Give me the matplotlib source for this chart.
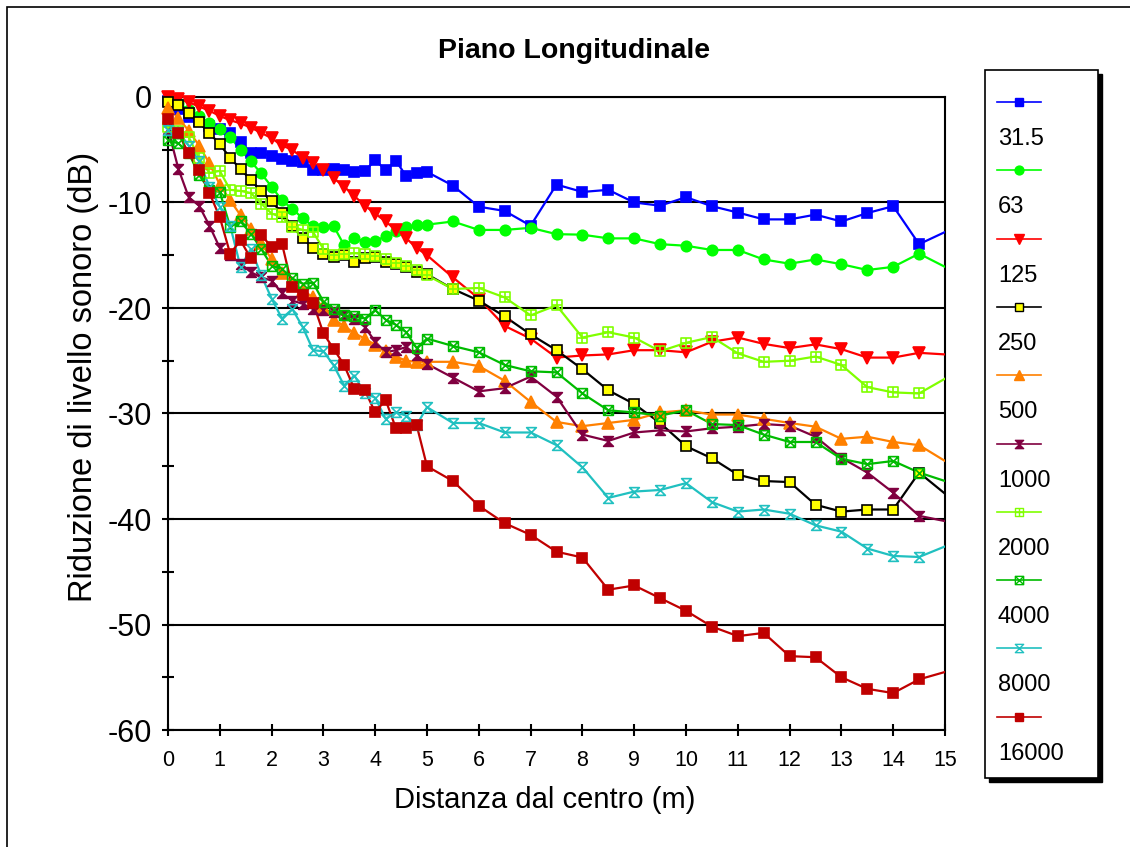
import matplotlib.pyplot as plt
from matplotlib.path import Path
from matplotlib.lines import Line2D
from matplotlib.patches import Rectangle

plt.rcParams['font.family'] = ['Liberation Sans', 'DejaVu Sans']
plt.rcParams['axes.unicode_minus'] = False

# distances (m); last point lies just outside the plotted range
dist = [0, 0.2, 0.4, 0.6, 0.8, 1.0, 1.2, 1.4, 1.6, 1.8, 2.0, 2.2, 2.4, 2.6, 2.8,
        3.0, 3.2, 3.4, 3.6, 3.8, 4.0, 4.2, 4.4, 4.6, 4.8, 5.0, 5.5, 6.0, 6.5, 7.0,
        7.5, 8.0, 8.5, 9.0, 9.5, 10.0, 10.5, 11.0, 11.5, 12.0, 12.5, 13.0, 13.5,
        14.0, 14.5, 15.0, 15.5]

freqs = ['31.5', '63', '125', '250', '500', '1000', '2000', '4000', '8000', '16000']

f31 = [-0.4, -1.1, -1.9, -2.3, -2.75, -3.0, -3.4, -4.3, -5.35, -5.3, -5.6, -5.9, -6.05,
       -6.2, -6.9, -6.9, -6.8, -6.9, -7.1, -7.0, -6.0, -6.9, -6.05, -7.5, -7.2, -7.1,
       -8.4, -10.4, -10.8, -12.2, -8.3, -9.0, -8.8, -10.0, -10.3, -9.5, -10.35, -10.95,
       -11.6, -11.6, -11.15, -11.8, -11.0, -10.35, -13.95, -12.8, -11.7]
f63 = [-0.2, -0.6, -1.2, -1.8, -2.5, -3.0, -3.8, -5.0, -6.1, -7.25, -8.5, -9.8, -10.6,
       -11.5, -12.25, -12.3, -12.25, -14.05, -13.4, -13.7, -13.65, -13.2, -12.7, -12.3,
       -12.15, -12.1, -11.8, -12.6, -12.6, -12.4, -13.0, -13.05, -13.4, -13.4, -13.95,
       -14.1, -14.5, -14.5, -15.4, -15.8, -15.4, -15.85, -16.4, -16.1, -14.85, -16.1, -17.3]
f125 = [0.0, -0.2, -0.5, -0.9, -1.3, -1.8, -2.2, -2.5, -2.9, -3.4, -3.9, -4.6, -5.0,
        -5.8, -6.3, -6.9, -7.7, -8.5, -9.4, -10.3, -11.05, -11.8, -12.6, -13.4, -14.3,
        -15.0, -17.1, -19.1, -21.7, -22.9, -24.7, -24.5, -24.4, -24.0, -24.0, -24.2,
        -23.2, -22.8, -23.4, -23.8, -23.45, -23.9, -24.7, -24.7, -24.25, -24.4, -24.6]
f250 = [-0.45, -0.75, -1.5, -2.4, -3.45, -4.45, -5.8, -6.8, -7.9, -8.9, -9.9, -11.0,
        -12.25, -13.4, -14.3, -14.85, -15.2, -15.0, -15.6, -15.3, -15.2, -15.6, -15.8,
        -16.1, -16.6, -16.8, -18.2, -19.3, -20.8, -22.5, -24.0, -25.8, -27.8, -29.1,
        -30.9, -33.1, -34.25, -35.8, -36.4, -36.5, -38.65, -39.3, -39.1, -39.1, -35.6,
        -37.6, -39.6]
f500 = [-1.0, -2.0, -3.2, -4.6, -6.3, -8.3, -9.8, -11.2, -12.5, -13.8, -15.4, -16.7,
        -17.6, -18.3, -19.0, -19.9, -21.1, -21.7, -22.4, -22.9, -23.5, -24.1, -24.6,
        -25.0, -25.1, -25.1, -25.1, -25.5, -26.9, -28.9, -30.8, -31.2, -30.9, -30.6,
        -29.9, -29.7, -30.1, -30.1, -30.5, -30.9, -31.25, -32.4, -32.2, -32.7, -33.0,
        -34.5, -36.0]
f1000 = [-3.0, -6.8, -9.5, -10.3, -12.2, -14.3, -15.0, -15.8, -16.6, -17.1, -17.4,
         -18.6, -19.3, -19.6, -20.1, -20.2, -20.4, -20.7, -21.0, -21.8, -23.2, -24.2,
         -24.0, -23.7, -24.5, -25.3, -26.6, -27.9, -27.6, -26.5, -28.4, -32.0, -32.6,
         -31.8, -31.6, -31.7, -31.4, -31.25, -31.0, -31.15, -32.2, -34.2, -35.6, -37.5,
         -39.7, -40.2, -40.7]
f2000 = [-2.8, -3.2, -3.8, -5.8, -7.2, -7.0, -8.8, -8.9, -9.1, -10.1, -11.05, -11.4,
         -12.3, -12.6, -12.8, -14.4, -15.0, -14.9, -14.8, -14.9, -15.1, -15.4, -15.7,
         -16.0, -16.4, -16.9, -18.2, -18.1, -19.0, -20.7, -19.75, -22.8, -22.3, -22.8,
         -24.1, -23.3, -22.75, -24.3, -25.1, -25.0, -24.6, -25.4, -27.5, -28.0, -28.1,
         -26.7, -25.3]
f4000 = [-4.1, -4.4, -5.3, -7.4, -8.8, -9.0, -12.3, -11.8, -12.95, -14.4, -16.0, -16.3,
         -17.2, -17.7, -17.6, -19.4, -20.1, -20.7, -20.8, -21.0, -20.2, -21.1, -21.6,
         -22.3, -23.8, -22.9, -23.6, -24.2, -25.4, -26.0, -26.1, -28.1, -29.7, -29.9,
         -30.2, -29.7, -31.0, -31.1, -32.0, -32.7, -32.7, -34.3, -34.8, -34.5, -35.6,
         -36.4, -37.2]
f8000 = [-3.1, -3.3, -4.6, -6.1, -8.5, -10.4, -12.2, -16.1, -14.4, -16.9, -19.1, -21.0,
         -20.1, -21.8, -24.0, -24.1, -25.45, -27.35, -26.4, -28.1, -28.5, -30.5, -29.9,
         -30.2, -31.1, -29.4, -30.9, -30.9, -31.8, -31.8, -33.0, -35.1, -38.0, -37.4,
         -37.25, -36.6, -38.4, -39.3, -39.1, -39.5, -40.6, -41.2, -42.8, -43.5, -43.6,
         -42.6, -41.6]
f16000 = [-2.1, -3.45, -5.35, -6.9, -9.1, -11.4, -14.85, -13.6, -15.3, -13.1, -14.2,
          -13.9, -18.0, -18.8, -19.5, -22.4, -23.9, -25.4, -27.7, -27.8, -29.9, -28.7,
          -31.4, -31.4, -31.1, -35.0, -36.4, -38.75, -40.4, -41.5, -43.1, -43.65, -46.7,
          -46.3, -47.5, -48.7, -50.2, -51.1, -50.8, -53.0, -53.1, -55.0, -56.1, -56.5,
          -55.2, -54.5, -53.8]

series = [f31, f63, f125, f250, f500, f1000, f2000, f4000, f8000, f16000]

# custom markers
M, L, C = Path.MOVETO, Path.LINETO, Path.CLOSEPOLY
hourglass = Path([(-1, 1), (1, 1), (-1, -1), (1, -1), (-1, 1)], [M, L, L, L, C])
boxplus = Path([(-1, -1), (1, -1), (1, 1), (-1, 1), (-1, -1), (0, -1), (0, 1), (-1, 0), (1, 0)],
               [M, L, L, L, C, M, L, M, L])
boxx = Path([(-1, -1), (1, -1), (1, 1), (-1, 1), (-1, -1), (-1, -1), (1, 1), (-1, 1), (1, -1)],
            [M, L, L, L, C, M, L, M, L])

# color, marker, face, edge, size
styles = [
    ('#0000FF', 's', '#0000FF', '#0000FF', 7),
    ('#00FF00', 'o', '#00FF00', '#00FF00', 7.5),
    ('#FF0000', 'v', '#FF0000', '#FF0000', 8),
    ('#000000', 's', '#FFFF00', '#000000', 7),
    ('#FF8000', '^', '#FF8000', '#FF8000', 8),
    ('#800040', hourglass, '#800040', '#800040', 7),
    ('#80FF00', boxplus, 'none', '#80FF00', 7),
    ('#00BB00', boxx, 'none', '#00BB00', 7),
    ('#20C0C0', hourglass, 'none', '#20C0C0', 7),
    ('#C00000', 's', '#C00000', '#C00000', 7.5),
]

W, H = 1130, 847
fig = plt.figure(figsize=(W / 100, H / 100), dpi=100)
ax = fig.add_axes([168 / W, 1 - 730 / H, (945 - 168) / W, (730 - 97) / H])

# markers only for points strictly inside the x range (edge ones are hidden in the original)
inside = [i for i, d in enumerate(dist) if d < 15]
for vals, (col, mk, fc, ec, ms) in zip(series, styles):
    ax.plot(dist, vals, color=col, lw=1.6, zorder=3)
    ax.plot([dist[i] for i in inside], [vals[i] for i in inside], ls='none',
            marker=mk, mfc=fc, mec=ec, ms=ms, mew=1.2, clip_on=False, zorder=4)

ax.set_xlim(0, 15)
ax.set_ylim(-60, 0)
ax.set_xticks(range(0, 16))
ax.set_yticks(range(-60, 1, 10))
ax.set_yticks(range(-55, 0, 10), minor=True)
ax.grid(axis='y', which='major', color='black', lw=1.5)
for s in ax.spines.values():
    s.set_linewidth(1.5)
ax.tick_params(axis='y', which='both', direction='inout', length=9, width=1.5,
               labelsize=22, pad=7)
ax.tick_params(axis='x', direction='inout', length=9, width=1.5, labelsize=15.5, pad=10)

fig.text(574 / W, 1 - 51 / H, 'Piano Longitudinale', ha='center', va='center',
         fontsize=20.5, fontweight='bold')
fig.text(545 / W, 1 - 800 / H, 'Distanza dal centro (m)', ha='center', va='center',
         fontsize=21)
fig.text(84 / W, 1 - 377 / H, 'Riduzione di livello sonoro (dB)', ha='center',
         va='center', rotation=90, fontsize=23.5)

# outer chart border
fig.add_artist(Rectangle((7 / W, -0.05), 1.1, 1 - 7 / H + 0.05, transform=fig.transFigure,
                         fill=False, ec='black', lw=1.2))

# legend box with shadow
lx0, lx1, ly0, ly1 = 985, 1098, 70, 778
fig.add_artist(Rectangle(((lx0 + 4) / W, 1 - (ly1 + 4) / H), (lx1 - lx0) / W, (ly1 - ly0) / H,
                         transform=fig.transFigure, fc='black', ec='black', lw=1))
fig.add_artist(Rectangle((lx0 / W, 1 - ly1 / H), (lx1 - lx0) / W, (ly1 - ly0) / H,
                         transform=fig.transFigure, fc='white', ec='black', lw=1.2))
for k, (lab, (col, mk, fc, ec, ms)) in enumerate(zip(freqs, styles)):
    yl = 102 + k * 68.3
    fig.add_artist(Line2D([997 / W, 1041 / W], [1 - yl / H, 1 - yl / H],
                          transform=fig.transFigure, color=col, lw=1.2))
    fig.add_artist(Line2D([1019 / W], [1 - yl / H], transform=fig.transFigure, ls='none',
                          marker=mk, mfc=fc, mec=ec, ms=ms * 0.85, mew=1.0))
    fig.text(998 / W, 1 - (yl + 37) / H, lab, ha='left', va='center', fontsize=17)

fig.savefig('out.png', dpi=100)
